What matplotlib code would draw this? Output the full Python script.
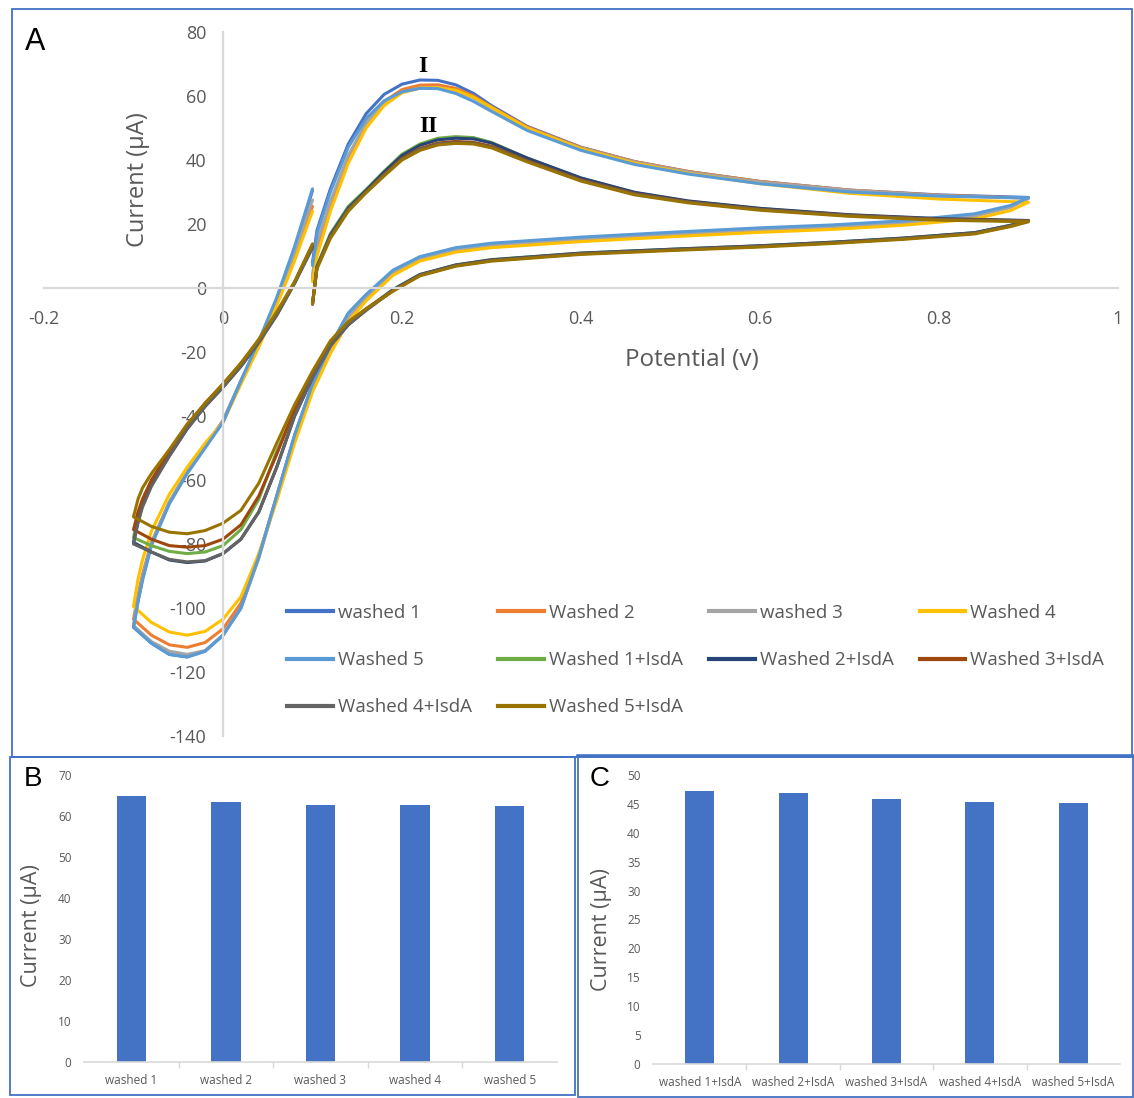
import matplotlib
matplotlib.use("Agg")
import matplotlib.pyplot as plt
from matplotlib.patches import Rectangle
from matplotlib.lines import Line2D

W, H = 1134, 1098


def fx(x):
    return x / W


def fy(y):
    return 1 - y / H


plt.rcParams['font.family'] = ['Open Sans', 'DejaVu Sans']
plt.rcParams['axes.unicode_minus'] = False

# potential sweep: 0.1 -> 0.9 (anodic), 0.9 -> -0.1 (cathodic), -0.1 -> 0.1
anodic_v = [0.100, 0.105, 0.12, 0.14, 0.16, 0.18, 0.20, 0.22, 0.24, 0.26,
            0.28, 0.30, 0.34, 0.40, 0.46, 0.52, 0.60, 0.70, 0.80, 0.90]
cathodic_v = [0.88, 0.84, 0.76, 0.68, 0.60, 0.50, 0.40, 0.30, 0.26, 0.22,
              0.19, 0.16, 0.14, 0.12, 0.10, 0.08, 0.06, 0.04, 0.02, 0.00,
              -0.02, -0.04, -0.06, -0.08, -0.10]
return_v = [-0.095, -0.09, -0.08, -0.06, -0.04, -0.02, 0.00, 0.02, 0.04,
            0.06, 0.08, 0.10]
potential = anodic_v + cathodic_v + return_v

# currents (uA) for each scan, same order as potential
washed1 = [8, 18, 31, 45, 54.5, 60.5, 63.7, 65.0, 64.9, 63.5, 60.8, 57.0, 50.5, 44.0, 39.5, 36.4, 33.3, 30.6, 29.1, 28.3,
           25.5, 22.8, 20.6, 19.3, 18.4, 17.0, 15.5, 13.8, 12.2, 9.2, 5.0, -2.2, -8.0, -18, -30, -46, -65, -84, -100, -108.5,
           -113.5, -115.3, -114.5, -111, -106,
           -98, -91, -80, -67, -57.5, -49.5, -41.5, -29, -17, -3.5, 12, 30.5]
washed2 = [3, 12, 26, 41, 51.5, 58.3, 62.0, 63.4, 63.5, 62.4, 60.0, 56.6, 50.3, 43.9, 39.5, 36.4, 33.3, 30.6, 29.0, 28.1,
           25.3, 22.6, 20.4, 19.1, 18.2, 16.8, 15.3, 13.4, 12.0, 9.0, 4.6, -2.8, -9, -19, -31, -47, -65.5, -83.5, -98.5, -106.5,
           -110.8, -112.3, -111.5, -108.5, -103.5,
           -96, -89.5, -79.5, -67, -57.5, -49.5, -41.5, -29.5, -17.5, -4.5, 10, 25.5]
washed3 = [4, 14, 27, 41.5, 51.5, 57.8, 61.2, 62.5, 62.6, 61.6, 59.4, 56.2, 50.0, 43.7, 39.3, 36.2, 33.1, 30.5, 28.9, 28.0,
           25.2, 22.5, 20.4, 19.1, 18.2, 16.8, 15.3, 13.4, 12.0, 9.1, 4.8, -2.6, -9, -18.5, -30.5, -46.5, -65.5, -84.5, -100, -108.5,
           -113.3, -114.5, -113.5, -110.5, -105.5,
           -97, -90.5, -80, -67, -57.5, -49.5, -41.5, -29.5, -17.5, -4, 11, 27.5]
washed4 = [2, 10, 24, 39, 50, 57, 61, 62.5, 62.6, 61.8, 59.6, 56.4, 50.0, 43.5, 39.0, 35.8, 32.6, 29.6, 27.8, 26.8,
           24.2, 21.6, 19.6, 18.3, 17.4, 16.0, 14.5, 12.6, 11.2, 8.4, 4.0, -4, -10.5, -20.5, -32.5, -48.5, -66.5, -83, -96.5, -103.5,
           -107.3, -108.5, -107.5, -104.5, -99.5,
           -91, -85, -76, -64.5, -56, -48.5, -42, -30, -18.5, -5.5, 8.5, 24]
washed5 = [7, 17, 30, 44, 53, 58.5, 61.3, 62.4, 62.3, 60.8, 58.3, 55.2, 49.2, 43.0, 38.6, 35.6, 32.6, 30.0, 28.7, 28.2,
           25.8, 23.2, 21.0, 19.7, 18.8, 17.4, 15.9, 14.0, 12.6, 9.8, 5.6, -2.0, -7.8, -18, -30, -46, -65, -84, -100, -108.5,
           -113.5, -115.3, -114.5, -111, -106,
           -98, -91.5, -80.5, -67.5, -58, -50, -42, -29, -16.5, -3, 13, 31]
washed1_isda = [-5, 7, 17, 25.5, 30.8, 36.5, 41.8, 45.0, 46.8, 47.3, 47.0, 45.5, 40.6, 34.3, 29.8, 27.1, 24.8, 22.8, 21.6, 21.0,
                19.6, 17.3, 15.6, 14.3, 13.2, 12.1, 10.9, 8.9, 7.2, 4.2, -0.5, -6.5, -11, -17.5, -27, -38.5, -51, -66, -75.5, -80.5,
                -82.5, -83, -82.3, -80.5, -78,
                -71.5, -67, -60.5, -51.5, -43.5, -36.5, -30.5, -24, -16.5, -8, 1.8, 13.5]
washed2_isda = [-5, 6.5, 16.5, 25, 30.5, 36.2, 41.4, 44.6, 46.3, 46.8, 46.6, 45.3, 40.6, 34.4, 29.9, 27.2, 24.9, 22.9, 21.7, 21.1,
                19.6, 17.3, 15.6, 14.3, 13.2, 12.1, 10.9, 8.8, 7.2, 4.2, -0.5, -6.8, -11.5, -18, -28, -40, -56, -70, -78.5, -83,
                -85.3, -85.8, -85, -82.5, -79.5,
                -73, -68, -61.5, -52.5, -44, -37, -31, -24.5, -17, -8.5, 1.5, 13]
washed3_isda = [-5, 6.5, 16, 24.5, 30, 35.5, 40.5, 43.6, 45.3, 45.8, 45.5, 44.3, 39.8, 33.8, 29.5, 26.9, 24.6, 22.7, 21.5, 21.0,
                19.4, 17.1, 15.4, 14.1, 13.0, 11.9, 10.7, 8.6, 7.0, 4.0, -0.8, -6.5, -11, -17.5, -27, -38, -52, -65, -74, -78.5,
                -80.5, -81, -80.5, -78.5, -75.5,
                -70, -66, -60, -51, -43, -36, -30, -23.5, -16.5, -8, 1.8, 13.5]
washed4_isda = [-5, 6.5, 16, 24.5, 30, 35.3, 40.2, 43.3, 45.0, 45.4, 45.2, 44.0, 39.6, 33.6, 29.3, 26.8, 24.5, 22.6, 21.4, 20.9,
                19.4, 17.1, 15.4, 14.1, 13.0, 11.9, 10.7, 8.6, 7.0, 4.0, -0.8, -7, -11.5, -18, -28, -40, -56, -70, -78.5, -83,
                -85.2, -85.6, -84.8, -82.5, -80,
                -73.5, -68.5, -62, -52.5, -44, -37, -31, -24.5, -17, -8.5, 1.5, 12.5]
washed5_isda = [-5, 6, 15.5, 24, 29.8, 35, 40, 43.0, 44.7, 45.2, 45.0, 43.8, 39.4, 33.4, 29.1, 26.6, 24.3, 22.4, 21.2, 20.7,
                19.2, 16.9, 15.2, 13.9, 12.8, 11.7, 10.5, 8.4, 6.8, 3.8, -1, -6.5, -10.5, -16.5, -26, -36.5, -48.5, -61, -69.5, -73.5,
                -75.8, -76.8, -76.3, -74.5, -71.5,
                -66, -62.5, -58, -50.5, -42.5, -36, -30, -23.5, -16, -7.5, 2, 13.8]

scan_labels = ['washed 1', 'Washed 2', 'washed 3', 'Washed 4', 'Washed 5',
               'Washed 1+IsdA', 'Washed 2+IsdA', 'Washed 3+IsdA',
               'Washed 4+IsdA', 'Washed 5+IsdA']
scan_currents = [washed1, washed2, washed3, washed4, washed5,
                 washed1_isda, washed2_isda, washed3_isda, washed4_isda,
                 washed5_isda]
scan_colors = ['#4472C4', '#ED7D31', '#A5A5A5', '#FFC000', '#5B9BD5',
               '#70AD47', '#264478', '#9E480E', '#636363', '#997300']

# anodic peak currents
peak_labels_b = ['washed 1', 'washed 2', 'washed 3', 'washed 4', 'washed 5']
peak_current_b = [65.0, 63.5, 62.6, 62.6, 62.4]
peak_labels_c = ['washed 1+IsdA', 'washed 2+IsdA', 'washed 3+IsdA',
                 'washed 4+IsdA', 'washed 5+IsdA']
peak_current_c = [47.3, 46.8, 45.8, 45.4, 45.2]

GREY_TXT = '#595959'
AXIS_GREY = '#D9D9D9'
FRAME = '#4472C4'

fig = plt.figure(figsize=(W / 100, H / 100), dpi=100)

# ---- panel A: cyclic voltammograms ----
ax = fig.add_axes([fx(44), fy(736), fx(1118) - fx(44), fy(32) - fy(736)])
for lab, cur, col in zip(scan_labels, scan_currents, scan_colors):
    ax.plot(potential, cur, color=col, lw=2.2, label=lab,
            solid_joinstyle='round', solid_capstyle='round')
ax.set_xlim(-0.2, 1.0)
ax.set_ylim(-140, 80)
ax.set_xticks([-0.2, 0, 0.2, 0.4, 0.6, 0.8, 1.0])
ax.set_xticklabels(['-0.2', '0', '0.2', '0.4', '0.6', '0.8', '1'])
ax.set_yticks(list(range(-140, 81, 20)))
for side in ['top', 'right']:
    ax.spines[side].set_visible(False)
for side in ['left', 'bottom']:
    ax.spines[side].set_position(('data', 0))
    ax.spines[side].set_color(AXIS_GREY)
    ax.spines[side].set_linewidth(1.6)
ax.tick_params(length=0, labelcolor=GREY_TXT, labelsize=13)
ax.tick_params(axis='y', pad=12)
ax.tick_params(axis='x', pad=16)
ax.set_axisbelow(True)
ax.patch.set_visible(False)

ax.text(0.2235, 69.3, 'I', family='Liberation Serif', weight='bold',
        fontsize=17, ha='center', va='center')
ax.text(0.229, 50.5, 'II', family='Liberation Serif', weight='bold',
        fontsize=17, ha='center', va='center')

# legend filled row by row like the spreadsheet original
order = [0, 4, 8, 1, 5, 9, 2, 6, 3, 7]
handles = [Line2D([], [], color=scan_colors[i], lw=3) for i in order]
leg = ax.legend(handles, [scan_labels[i] for i in order], ncol=4,
                loc='upper left', bbox_to_anchor=(fx(287), fy(604)),
                bbox_transform=fig.transFigure, frameon=False, fontsize=13.5,
                handlelength=2.45, handletextpad=0.27, columnspacing=1.38,
                labelspacing=1.56, borderpad=0, borderaxespad=0)
for t in leg.get_texts():
    t.set_color(GREY_TXT)

fig.text(fx(138), fy(180), 'Current (µA)', rotation=90, ha='center',
         va='center', fontsize=17, color=GREY_TXT)
fig.text(fx(692), fy(360), 'Potential (v)', ha='center', va='center',
         fontsize=17.5, color=GREY_TXT)
fig.text(fx(35), fy(42), 'A', family='Liberation Sans', fontsize=22,
         ha='center', va='center')


def bar_panel(rect, labels, values, ymax, ystep, lab_x, lab_y, letter,
              letter_xy):
    bx = fig.add_axes(rect)
    pos = list(range(len(values)))
    bx.bar(pos, values, width=0.31, color='#4472C4')
    bx.set_xlim(-0.5, len(values) - 0.5)
    bx.set_ylim(0, ymax)
    bx.set_yticks(list(range(0, ymax + 1, ystep)))
    bx.set_xticks(pos)
    bx.set_xticklabels(labels)
    bx.set_xticks([p + 0.5 for p in pos[:-1]], minor=True)
    for side in ['top', 'right', 'left']:
        bx.spines[side].set_visible(False)
    bx.spines['bottom'].set_color(AXIS_GREY)
    bx.spines['bottom'].set_linewidth(1.2)
    bx.tick_params(which='major', length=0, labelcolor=GREY_TXT,
                   labelsize=8.5)
    bx.tick_params(axis='y', pad=9)
    bx.tick_params(axis='x', pad=9)
    bx.tick_params(axis='x', which='minor', length=4, color=AXIS_GREY,
                   width=1.0)
    fig.text(fx(lab_x), fy(lab_y), 'Current (µA)', rotation=90,
             ha='center', va='center', fontsize=15.5, color=GREY_TXT)
    fig.text(fx(letter_xy[0]), fy(letter_xy[1]), letter,
             family='Liberation Sans', fontsize=20, ha='center',
             va='center')
    return bx


# ---- panel B / C: peak currents ----
bar_panel([fx(84), fy(1062), fx(557) - fx(84), fy(775) - fy(1062)],
          peak_labels_b, peak_current_b, 70, 10, 31, 926, 'B', (33, 779))
bar_panel([fx(653), fy(1064), fx(1120) - fx(653), fy(775) - fy(1064)],
          peak_labels_c, peak_current_c, 50, 5, 601, 930, 'C', (600, 779))

# panel frames
for x0, y0, x1, y1 in [(12, 9, 1132, 757), (10, 757, 575, 1095),
                       (578, 756, 1133, 1097)]:
    fig.add_artist(Rectangle((fx(x0), fy(y1)), fx(x1) - fx(x0),
                             fy(y0) - fy(y1), transform=fig.transFigure,
                             fill=False, edgecolor=FRAME, lw=1.3))
fig.add_artist(Line2D([fx(578), fx(1134)], [fy(756), fy(756)],
                      transform=fig.transFigure, color=FRAME, lw=2.6))

fig.savefig('out.png', dpi=100)
